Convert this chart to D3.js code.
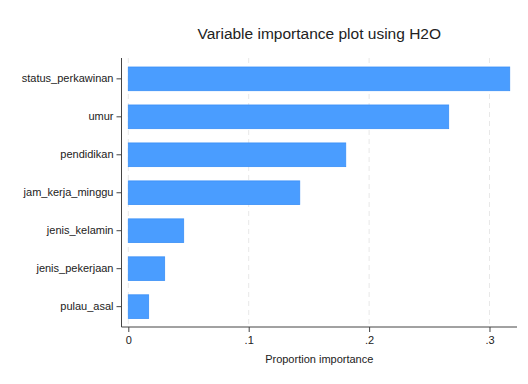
<!DOCTYPE html>
<html><head><meta charset="utf-8">
<script src="https://cdn.jsdelivr.net/npm/d3@7"></script>
<style>body{margin:0;background:#fff}svg{display:block}text{font-family:"Liberation Sans",Arial,sans-serif;fill:#222}</style>
</head><body>
<script>
const categories = ["status_perkawinan","umur","pendidikan","jam_kerja_minggu","jenis_kelamin","jenis_pekerjaan","pulau_asal"];
const values = [0.3168,0.2661,0.1806,0.1424,0.0460,0.0302,0.0169];
const xTicks = [0,0.1,0.2,0.3];
const xTickLabels = ["0",".1",".2",".3"];
const title = "Variable importance plot using H2O";
const xTitle = "Proportion importance";

(function(){
const W=528,H=384;
const svg=d3.select("body").append("svg").attr("width",W).attr("height",H);
const pl=121.5, pr=517, pt=58, pb=327;
const x=d3.scaleLinear().domain([0,0.3]).range([128.3,489.5]);
const y=d3.scaleBand().domain(categories).range([pt,pb+0.5]).paddingInner(0.376).paddingOuter(0.237);

svg.append("g").selectAll("line").data(xTicks).join("line")
  .attr("x1",d=>x(d)).attr("x2",d=>x(d)).attr("y1",pt).attr("y2",pb)
  .attr("stroke","#e8e8e8").attr("stroke-width",1).attr("stroke-dasharray","5,4");

svg.append("g").selectAll("rect").data(categories).join("rect")
  .attr("x",x(0)).attr("y",d=>y(d))
  .attr("width",(d,i)=>x(values[i])-x(0)).attr("height",y.bandwidth())
  .attr("fill","#4a9dff").attr("stroke","#3b90f7").attr("stroke-width",0.8);

const ya=svg.append("g").attr("transform",`translate(${pl},0)`)
  .call(d3.axisLeft(y).tickSize(5).tickPadding(3));
ya.select(".domain").attr("d",`M0,${pt}V${pb}`).attr("stroke","#444");
ya.selectAll(".tick line").attr("stroke","#444");
ya.selectAll("text").attr("font-size",11).style("fill","#222");

const xa=svg.append("g").attr("transform",`translate(0,${pb})`)
  .call(d3.axisBottom(x).tickValues(xTicks).tickFormat((d,i)=>xTickLabels[i]).tickSize(5).tickPadding(4));
xa.select(".domain").attr("d",`M${pl},0H${pr}`).attr("stroke","#444");
xa.selectAll(".tick line").attr("stroke","#444");
xa.selectAll("text").attr("font-size",11).style("fill","#222");

svg.append("text").attr("x",(pl+pr)/2).attr("y",363).attr("text-anchor","middle")
  .attr("font-size",11).text(xTitle);
svg.append("text").attr("x",(pl+pr)/2).attr("y",39).attr("text-anchor","middle")
  .attr("font-size",15.5).text(title);
})();
</script>
</body></html>
